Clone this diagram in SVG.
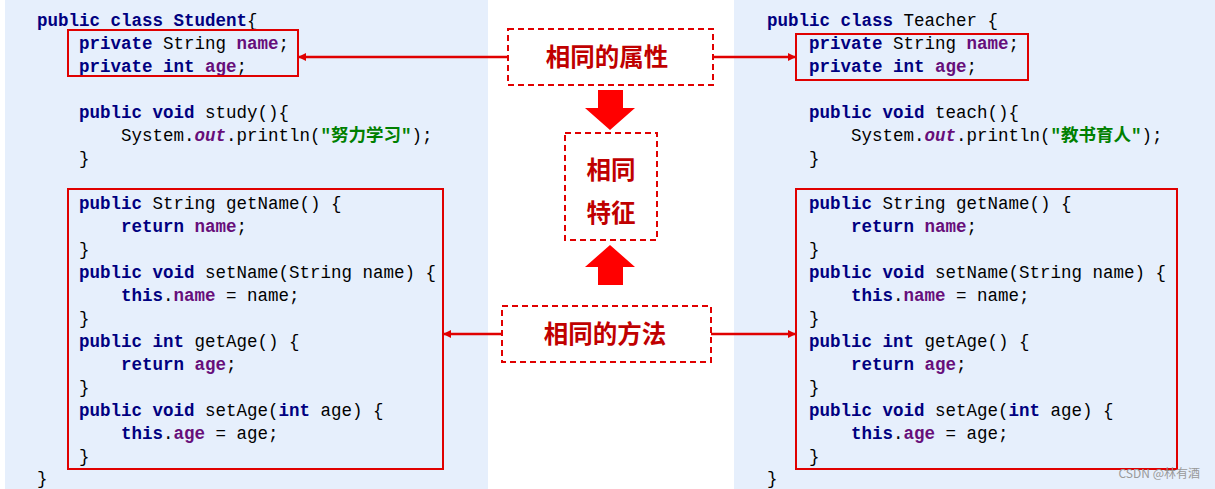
<svg xmlns="http://www.w3.org/2000/svg" width="1215" height="489" viewBox="0 0 1215 489">
<style>
.c{font-family:"Liberation Mono","Noto Sans CJK SC",monospace;font-size:17.5px;fill:#000}
.k{fill:#000080;font-weight:bold}
.f{fill:#660e7a;font-weight:bold}
.o{fill:#660e7a;font-weight:bold;font-style:italic}
.s{fill:#008000;font-weight:bold}
.box{fill:none;stroke:#e00000;stroke-width:2}
.dash{fill:#fff;stroke:#e00000;stroke-width:2;stroke-dasharray:6,4}
.lbl{font-family:"Noto Sans CJK SC",sans-serif;font-size:24.5px;font-weight:bold;fill:#c00000;text-anchor:middle}
.ln{stroke:#e00000;stroke-width:2.5;fill:none;marker-end:url(#ah)}
</style>
<defs><marker id="ah" markerWidth="8" markerHeight="8" refX="7" refY="4" orient="auto" markerUnits="userSpaceOnUse"><path d="M0,0L8,4L0,8z" fill="#e00000"/></marker></defs>
<rect width="1215" height="489" fill="#fff"/>
<rect x="5" y="0" width="483" height="489" fill="#e6effc"/>
<rect x="734" y="0" width="481" height="489" fill="#e6effc"/>
<g id="student" class="c">
<text x="37" y="26"><tspan class="k">public class</tspan> <tspan class="k">Student</tspan>{</text>
<text x="79" y="49"><tspan class="k">private</tspan> String <tspan class="f">name</tspan>;</text>
<text x="79" y="72"><tspan class="k">private int</tspan> <tspan class="f">age</tspan>;</text>
<text x="79" y="118"><tspan class="k">public void</tspan> study(){</text>
<text x="121" y="141">System.<tspan class="o">out</tspan>.println(<tspan class="s">"努力学习"</tspan>);</text>
<text x="79" y="164">}</text>
<text x="79" y="209"><tspan class="k">public</tspan> String getName() {</text>
<text x="121" y="232"><tspan class="k">return</tspan> <tspan class="f">name</tspan>;</text>
<text x="79" y="255">}</text>
<text x="79" y="278"><tspan class="k">public void</tspan> setName(String name) {</text>
<text x="121" y="301"><tspan class="k">this</tspan>.<tspan class="f">name</tspan> = name;</text>
<text x="79" y="324">}</text>
<text x="79" y="347"><tspan class="k">public int</tspan> getAge() {</text>
<text x="121" y="370"><tspan class="k">return</tspan> <tspan class="f">age</tspan>;</text>
<text x="79" y="393">}</text>
<text x="79" y="416"><tspan class="k">public void</tspan> setAge(<tspan class="k">int</tspan> age) {</text>
<text x="121" y="439"><tspan class="k">this</tspan>.<tspan class="f">age</tspan> = age;</text>
<text x="79" y="462">}</text>
<text x="37" y="484">}</text>
<rect class="box" x="68" y="30" width="230" height="46"/>
<rect class="box" x="68" y="189" width="375" height="280"/>
</g>
<g id="teacher" class="c">
<text x="767" y="26"><tspan class="k">public class</tspan> Teacher {</text>
<text x="809" y="49"><tspan class="k">private</tspan> String <tspan class="f">name</tspan>;</text>
<text x="809" y="72"><tspan class="k">private int</tspan> <tspan class="f">age</tspan>;</text>
<text x="809" y="118"><tspan class="k">public void</tspan> teach(){</text>
<text x="851" y="141">System.<tspan class="o">out</tspan>.println(<tspan class="s">"教书育人"</tspan>);</text>
<text x="809" y="164">}</text>
<text x="809" y="209"><tspan class="k">public</tspan> String getName() {</text>
<text x="851" y="232"><tspan class="k">return</tspan> <tspan class="f">name</tspan>;</text>
<text x="809" y="255">}</text>
<text x="809" y="278"><tspan class="k">public void</tspan> setName(String name) {</text>
<text x="851" y="301"><tspan class="k">this</tspan>.<tspan class="f">name</tspan> = name;</text>
<text x="809" y="324">}</text>
<text x="809" y="347"><tspan class="k">public int</tspan> getAge() {</text>
<text x="851" y="370"><tspan class="k">return</tspan> <tspan class="f">age</tspan>;</text>
<text x="809" y="393">}</text>
<text x="809" y="416"><tspan class="k">public void</tspan> setAge(<tspan class="k">int</tspan> age) {</text>
<text x="851" y="439"><tspan class="k">this</tspan>.<tspan class="f">age</tspan> = age;</text>
<text x="809" y="462">}</text>
<text x="767" y="484">}</text>
<rect class="box" x="796" y="34" width="232" height="46"/>
<rect class="box" x="796" y="189" width="381" height="280"/>
</g>
<g id="connectors">
<path class="ln" d="M508,57H299"/>
<path class="ln" d="M713,57H795"/>
<path class="ln" d="M502,334H444"/>
<path class="ln" d="M711,334H795"/>
<path d="M598,90H623V108H635L610,130L585,108H598z" fill="#f00"/>
<path d="M598,285H623V267H635L610,245L585,267H598z" fill="#f00"/>
</g>
<g id="attr"><rect class="dash" x="508" y="29" width="205" height="56"/><text class="lbl" x="607" y="66">相同的属性</text></g>
<g id="feature"><rect class="dash" x="565" y="133" width="92" height="107"/><text class="lbl" x="611" y="179">相同</text><text class="lbl" x="611" y="222">特征</text></g>
<g id="method"><rect class="dash" x="502" y="306" width="209" height="56"/><text class="lbl" x="605" y="343">相同的方法</text></g>
<text x="1200" y="478" font-family="Noto Sans CJK SC,sans-serif" font-size="12" fill="#999" text-anchor="end">CSDN @林有酒</text>
</svg>
